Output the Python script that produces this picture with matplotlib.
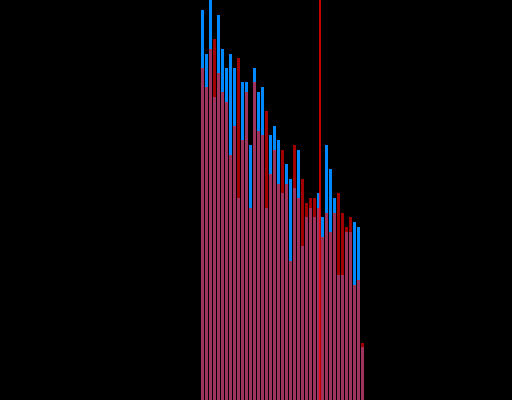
import numpy as np
import matplotlib
matplotlib.use("Agg")
import matplotlib.pyplot as plt

# bin index of each bar
bins = np.arange(41)

# heights (blue series and red series)
blue_counts = [390, 346, 410, 303, 385, 351, 332, 346, 332, 202, 318,
               318, 255, 332, 308, 313, 192, 265, 274, 260, 207,
               236, 221, 212, 250, 154, 183, 192, 183, 207, 183,
               255, 231, 202, 125, 125, 168, 168, 178, 173, 53]
red_counts = [332, 313, 351, 361, 327, 308, 298, 245, 274, 342, 260,
              308, 192, 318, 269, 265, 289, 226, 250, 216, 250,
              216, 139, 255, 202, 221, 197, 202, 202, 192, 163,
              187, 168, 187, 207, 187, 173, 183, 115, 120, 57]

# marker line position (in bin units)
threshold = 29.72


def plot_hist():
    fig = plt.figure(figsize=(5.12, 4.0), dpi=100, facecolor="black")
    ax = fig.add_axes([0, 0, 1, 1])
    ax.set_facecolor("black")

    ax.bar(bins, blue_counts, width=0.75, align="edge", color="#0088ff", linewidth=0)
    ax.bar(bins, red_counts, width=0.75, align="edge", color="red", alpha=0.63, linewidth=0)

    ax.axvline(threshold, color="#ff0000", linewidth=1.1)

    ax.set_xlim(-50.25, 77.75)
    ax.set_ylim(0, 400)
    ax.axis("off")

    fig.savefig("out.png", dpi=100, facecolor="black")


if __name__ == "__main__":
    plot_hist()
